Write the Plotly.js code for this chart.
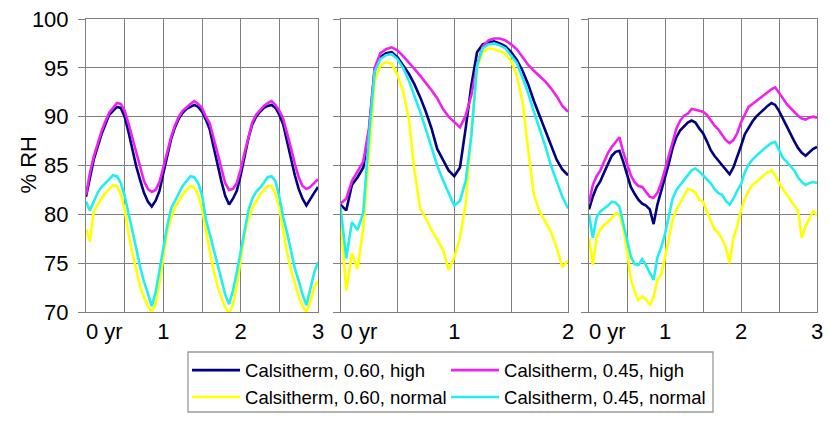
<!DOCTYPE html>
<html>
<head>
<meta charset="utf-8">
<script src="https://cdn.plot.ly/plotly-3.0.1.min.js"></script>
<style>html,body{margin:0;padding:0;background:#fff;}#chart{width:829px;height:423px;}</style>
</head>
<body>
<div id="chart"></div>
<script>
// time axes (years)
const t3 = [0,0.05,0.1,0.15,0.2,0.25,0.3,0.35,0.4,0.45,0.5,0.55,0.6,0.65,0.7,0.75,0.8,0.85,0.9,0.95,
  1,1.05,1.1,1.15,1.2,1.25,1.3,1.35,1.4,1.45,1.5,1.55,1.6,1.65,1.7,1.75,1.8,1.85,1.9,1.95,
  2,2.05,2.1,2.15,2.2,2.25,2.3,2.35,2.4,2.45,2.5,2.55,2.6,2.65,2.7,2.75,2.8,2.85,2.9,2.95,3];
const t2 = [0,0.05,0.1,0.15,0.2,0.25,0.3,0.35,0.4,0.45,0.5,0.55,0.6,0.65,0.7,0.75,0.8,0.85,0.9,0.95,
  1,1.05,1.1,1.15,1.2,1.25,1.3,1.35,1.4,1.45,1.5,1.55,1.6,1.65,1.7,1.75,1.8,1.85,1.9,1.95,2];

// series names
const names = ["Calsitherm, 0.60, high","Calsitherm, 0.45, high","Calsitherm, 0.60, normal","Calsitherm, 0.45, normal"];

// Panel 1
const p1_060_high = [81.8,83.8,85.6,86.9,88.2,89.2,90.2,90.6,91.0,90.9,90.0,88.4,86.5,84.9,83.5,82.2,81.3,80.8,81.4,82.4,
  84.2,86.0,87.7,88.9,89.8,90.4,90.8,91.0,91.2,91.0,90.5,89.7,88.7,86.9,85.0,83.4,81.9,81.0,81.6,82.4,
  84.0,85.9,87.8,89.2,90.0,90.5,90.9,91.1,91.2,90.9,90.2,89.2,87.4,85.6,84.0,82.6,81.6,80.9,81.6,82.2,82.8];
const p1_045_high = [82.0,84.2,85.9,87.2,88.5,89.5,90.4,90.9,91.4,91.3,90.6,89.3,87.8,86.2,84.7,83.4,82.6,82.3,82.5,83.3,
  84.8,86.4,87.9,89.1,90.0,90.6,91.0,91.3,91.6,91.3,90.9,90.0,89.3,87.9,86.3,84.7,83.2,82.5,82.6,83.2,
  84.6,86.3,88.0,89.4,90.2,90.7,91.1,91.4,91.6,91.2,90.6,89.8,88.4,86.8,85.2,83.8,82.9,82.6,82.8,83.2,83.6];
const p1_060_normal = [78.5,77.2,80.3,81.0,81.6,82.2,82.6,83.0,82.9,82.0,80.5,78.0,76.0,74.2,72.6,71.5,70.6,70.0,70.8,73.0,
  75.8,78.2,79.6,80.7,81.3,82.0,82.5,82.9,82.8,82.0,80.6,78.3,76.2,74.3,72.7,71.5,70.5,69.9,70.7,72.7,
  75.5,78.0,79.5,80.6,81.3,82.0,82.5,82.9,82.9,82.1,80.6,78.3,76.1,74.3,72.8,71.6,70.6,70.0,71.0,72.5,73.2];
const p1_045_normal = [81.3,80.4,81.3,82.2,82.8,83.2,83.6,84.0,83.9,83.2,81.9,80.2,78.3,76.5,74.6,73.1,71.9,70.6,72.0,74.3,
  76.6,78.8,80.6,81.4,82.1,82.9,83.4,83.9,83.8,83.2,82.0,79.5,78.0,76.5,74.9,73.4,71.8,70.8,72.2,74.1,
  76.3,78.6,80.4,81.6,82.3,82.7,83.3,83.8,83.9,83.4,81.8,79.7,78.1,76.4,74.5,73.2,71.8,70.7,72.4,74.0,75.1];

// Panel 2
const p2_060_high = [81.0,80.4,83.0,83.8,84.8,88.5,94.8,96.1,96.5,96.6,96.1,95.3,94.4,93.3,92.0,90.5,88.8,86.7,85.6,84.5,
  83.9,84.8,88.8,93.2,96.6,97.4,97.6,97.7,97.5,97.2,96.6,95.8,94.7,93.3,91.6,90.1,88.8,87.2,85.6,84.6,84.0];
const p2_045_high = [81.1,81.6,83.4,84.4,85.4,88.8,95.0,96.5,96.9,97.1,96.8,96.2,95.6,94.9,94.2,93.5,92.7,91.9,90.8,90.0,
  89.4,88.9,90.1,92.2,95.2,97.2,97.8,98.0,98.0,97.8,97.4,96.9,96.1,95.3,94.7,94.2,93.6,92.9,92.1,91.1,90.5];
const p2_060_normal = [79.5,72.2,76.0,74.4,78.6,86.5,93.6,95.2,95.6,95.4,94.3,92.6,89.8,84.5,80.6,79.6,78.4,77.4,76.4,74.3,
  75.6,77.6,81.0,88.5,95.0,96.6,97.0,96.9,96.7,96.4,95.7,94.2,91.5,86.6,82.0,80.3,79.2,78.2,76.6,74.6,75.3];
const p2_045_normal = [80.8,75.5,79.2,78.4,80.2,88.0,94.6,95.9,96.3,96.4,95.9,95.0,93.7,92.2,90.5,88.7,86.9,85.0,83.5,82.1,
  80.9,81.4,83.4,88.0,95.2,97.0,97.4,97.5,97.3,97.0,96.2,95.5,94.0,92.4,90.5,88.8,87.0,85.0,83.3,81.8,80.6];

// Panel 3
const p3_060_high = [80.5,81.8,82.8,83.4,84.3,85.2,86.0,86.4,86.5,85.4,84.2,82.8,82.1,81.5,81.1,80.9,80.5,79.0,81.0,82.4,
  83.6,85.2,86.8,87.9,88.6,89.0,89.4,89.6,89.4,88.8,88.3,87.5,86.6,86.0,85.5,85.1,84.5,84.1,84.8,85.8,
  87.0,88.2,88.9,89.5,90.0,90.4,90.8,91.1,91.4,91.2,90.6,89.8,89.1,88.3,87.5,86.8,86.3,86.0,86.4,86.7,86.9];
const p3_045_high = [81.2,83.0,83.9,84.5,85.4,86.3,86.9,87.4,87.9,86.4,85.1,84.0,83.3,82.9,82.8,82.3,81.8,81.7,82.2,83.2,
  84.6,85.9,87.5,88.8,89.6,90.1,90.3,90.8,90.7,90.6,90.5,90.2,89.6,89.1,88.7,88.2,87.6,87.3,87.6,88.3,
  89.4,90.2,91.0,91.3,91.6,91.9,92.2,92.5,92.8,93.0,92.5,91.9,91.3,90.9,90.4,90.1,89.8,89.7,89.9,90.0,89.9];
const p3_060_normal = [77.6,74.8,77.6,78.5,78.9,79.2,79.6,80.1,80.0,78.6,76.3,73.4,72.1,71.2,71.6,71.3,70.7,71.5,73.3,73.8,
  75.6,77.6,79.4,80.5,81.2,81.9,82.6,82.5,82.2,81.5,81.3,80.3,79.3,78.5,78.1,77.5,76.6,75.0,77.6,78.8,
  80.4,81.6,82.4,83.0,83.3,83.7,84.0,84.3,84.5,84.0,83.2,82.6,82.0,81.4,80.9,80.4,77.6,78.8,79.6,80.3,79.9];
const p3_045_normal = [80.0,77.6,79.7,80.3,80.6,80.9,81.3,81.2,80.8,79.1,77.6,75.7,74.9,74.8,75.4,74.8,74.0,73.3,75.6,76.6,
  78.0,80.0,81.6,82.5,83.0,83.4,84.0,84.5,84.7,84.4,84.0,83.6,83.2,82.6,82.2,82.0,81.4,81.0,81.6,82.4,
  83.1,84.3,85.1,85.6,86.0,86.3,86.7,87.0,87.3,87.4,86.6,85.8,85.4,85.0,84.5,83.8,83.3,83.0,83.2,83.3,83.2];

// tick labels
const xTicks3 = [0,0.5,1,1.5,2,2.5,3];
const xLabels3 = ["\u00a0\u00a0\u00a0\u00a0\u00a0\u00a00 yr","","1","","2","","3"];
const xTicks2 = [0,0.5,1,1.5,2];
const xLabels2 = ["\u00a0\u00a0\u00a0\u00a0\u00a0\u00a00 yr","","1","","2"];
const yTicks = [70,75,80,85,90,95,100];
const yTitle = "% RH";

const colors = ["#000080","#ee22ee","#ffff00","#22eeee"];
const FONT = "Liberation Sans, Arial, sans-serif";

const panels = [
  {t: t3, s: [p1_060_high,p1_045_high,p1_060_normal,p1_045_normal], xa:"x", ya:"y"},
  {t: t2, s: [p2_060_high,p2_045_high,p2_060_normal,p2_045_normal], xa:"x2", ya:"y2"},
  {t: t3, s: [p3_060_high,p3_045_high,p3_060_normal,p3_045_normal], xa:"x3", ya:"y3"}
];
const legendFor = ["legend","legend","legend2","legend2"];
const traces = [];
panels.forEach((p, pi) => {
  p.s.forEach((vals, si) => {
    traces.push({
      type: "scatter", mode: "lines", x: p.t, y: vals,
      xaxis: p.xa, yaxis: p.ya, name: names[si],
      line: {color: colors[si], width: 2.6},
      showlegend: pi === 0, legend: legendFor[si], hoverinfo: "skip"
    });
  });
});

const gridC = "#7f7f7f";
function xax(domain, maxv, vals, labels) {
  return {domain: domain, range: [0, maxv], tickmode: "array", tickvals: vals, ticktext: labels,
    showgrid: true, gridcolor: gridC, gridwidth: 1, zeroline: false,
    showline: true, linecolor: gridC, linewidth: 1, mirror: true, ticks: "",
    tickfont: {family: FONT, size: 22, color: "#000"}, fixedrange: true};
}
function yax(showLabels, anchor) {
  return {domain: [0,1], range: [70,100], tickmode: "array", tickvals: yTicks, anchor: anchor,
    showgrid: true, gridcolor: gridC, gridwidth: 1, zeroline: false,
    showline: true, linecolor: gridC, linewidth: 1, mirror: true,
    ticks: "outside", ticklen: 7, tickcolor: gridC, tickwidth: 1,
    showticklabels: showLabels, ticklabelstandoff: 5,
    tickfont: {family: FONT, size: 22, color: "#000"}, fixedrange: true};
}

const legendFont = {family: FONT, size: 18.5, color: "#000"};
const layout = {
  width: 829, height: 423,
  margin: {l: 86, r: 12, t: 19, b: 111, autoexpand: false},
  paper_bgcolor: "#fff", plot_bgcolor: "#fff",
  font: {family: FONT, color: "#000"},
  xaxis: xax([0, 0.3174], 3, xTicks3, xLabels3),
  xaxis2: xax([0.3482, 0.6594], 2, xTicks2, xLabels2),
  xaxis3: xax([0.6881, 1], 3, xTicks3, xLabels3),
  yaxis: yax(true, "x"),
  yaxis2: yax(false, "x2"),
  yaxis3: yax(false, "x3"),
  legend: {orientation: "h", x: 0.1382, xanchor: "left", y: -0.135, yanchor: "top",
    entrywidth: 196, itemwidth: 48, borderwidth: 0, bgcolor: "rgba(0,0,0,0)",
    font: legendFont, traceorder: "normal"},
  legend2: {orientation: "h", x: 0.1382, xanchor: "left", y: -0.227, yanchor: "top",
    entrywidth: 196, itemwidth: 48, borderwidth: 0, bgcolor: "rgba(0,0,0,0)",
    font: legendFont, traceorder: "normal"},
  annotations: [{text: yTitle, xref: "paper", yref: "paper", x: -0.0793, y: 0.5,
    xanchor: "center", yanchor: "middle", textangle: -90, showarrow: false,
    font: {family: FONT, size: 22, color: "#000"}}],
  shapes: [{type: "rect", xref: "paper", yref: "paper", x0: 0.1395, x1: 0.8577, y0: -0.1365, y1: -0.3413,
    line: {color: "#999", width: 1.3}, fillcolor: "rgba(0,0,0,0)"}],
  showlegend: true
};

Plotly.newPlot("chart", traces, layout, {displayModeBar: false, staticPlot: true});
</script>
</body>
</html>
